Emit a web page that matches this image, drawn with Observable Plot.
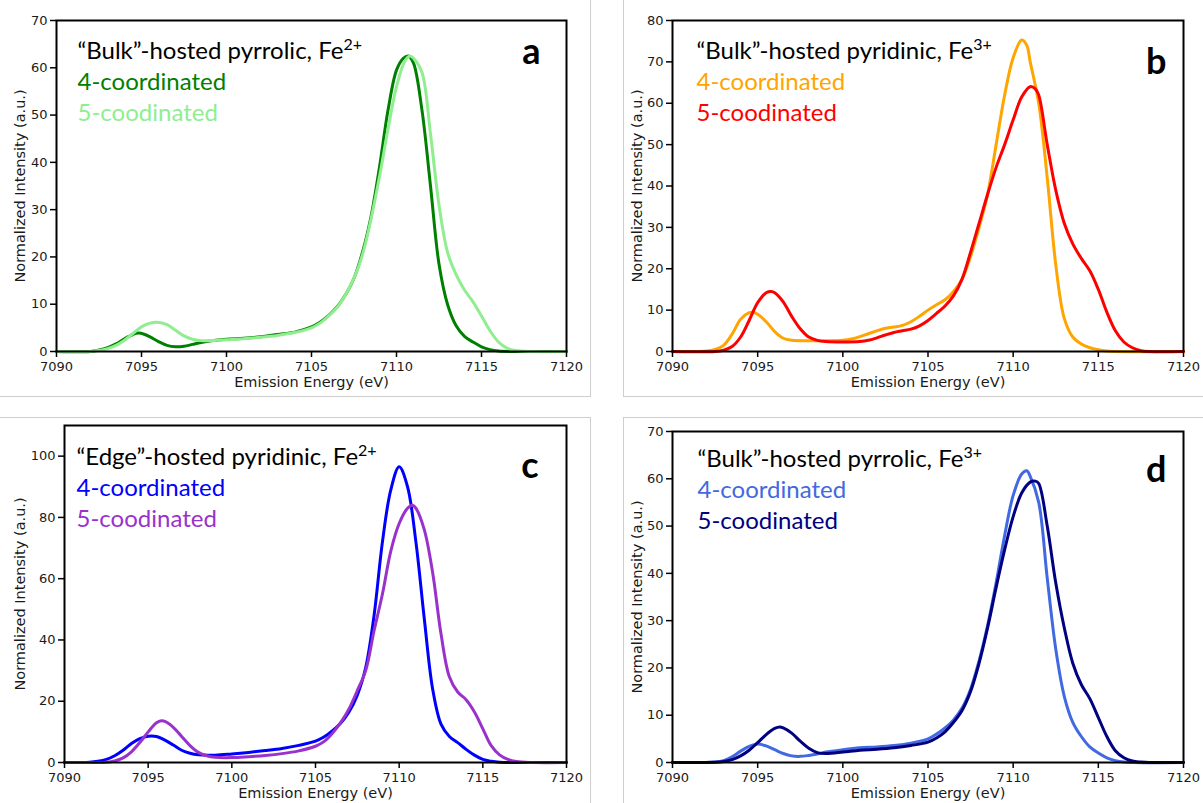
<!DOCTYPE html>
<html><head><meta charset="utf-8">
<script src="https://cdn.jsdelivr.net/npm/d3@7"></script>
<script src="https://cdn.jsdelivr.net/npm/@observablehq/plot@0.6"></script>
<style>
body{margin:0;background:#fff;}
#wrap{position:relative;width:1203px;height:803px;overflow:hidden;background:#fff;}
.rule{position:absolute;background:#cfcfcf;}
</style></head><body><div id="wrap"></div>
<script>
// ---------- shared labels ----------
const xTicks = [7090, 7095, 7100, 7105, 7110, 7115, 7120];
const xLabel = "Emission Energy (eV)";
const yLabel = "Normalized Intensity (a.u.)";
const label4 = "4-coordinated";
const label5 = "5-coodinated";
const panelLetters = ["a", "b", "c", "d"];
const panelTitles = ["“Bulk”-hosted pyrrolic, Fe", "“Bulk”-hosted pyridinic, Fe", "“Edge”-hosted pyridinic, Fe", "“Bulk”-hosted pyrrolic, Fe"];
const panelCharges = ["2+", "3+", "2+", "3+"];
const yTicksA = [0, 10, 20, 30, 40, 50, 60, 70];
const yTicksB = [0, 10, 20, 30, 40, 50, 60, 70, 80];
const yTicksC = [0, 20, 40, 60, 80, 100];
const yTicksD = [0, 10, 20, 30, 40, 50, 60, 70];
const yMaxes = [70, 80, 110, 70];

// ---------- series: [energy (eV), intensity] ----------
const a4 = [[7090,0],[7092,0],[7092.5,0.3],[7093,0.8],[7093.5,1.6],[7094,2.7],[7094.5,3.6],[7094.8,3.9],[7095.2,3.6],[7095.5,3.1],[7096,2.1],[7096.5,1.3],[7097,1.0],[7097.5,1.1],[7098,1.5],[7098.5,1.9],[7099,2.2],[7100,2.6],[7101,2.8],[7102,3.1],[7103,3.6],[7104,4.1],[7105,5.2],[7105.5,6.2],[7106,7.6],[7106.5,9.4],[7107,12],[7107.5,15.5],[7108,21],[7108.5,28.5],[7109,39],[7109.5,51],[7110,59.5],[7110.4,62],[7110.7,62.5],[7111,61],[7111.5,51],[7112,35],[7112.5,18.5],[7113,10],[7113.5,5.5],[7114,3.2],[7114.5,2],[7115,1],[7115.5,0.4],[7116,0.1],[7117,0],[7120,0]];
const a5 = [[7090,0],[7092,0],[7092.5,0.2],[7093,0.6],[7093.5,1.3],[7094,2.4],[7094.5,3.8],[7095,5.2],[7095.5,6.0],[7095.9,6.2],[7096.5,5.7],[7097,4.5],[7097.5,3.3],[7098,2.6],[7098.5,2.3],[7099,2.3],[7100,2.5],[7101,2.7],[7102,3.0],[7103,3.4],[7104,4.0],[7105,5.0],[7105.5,6.0],[7106,7.5],[7106.5,9.3],[7107,12],[7107.5,15.5],[7108,20.5],[7108.5,28],[7109,37],[7109.5,47],[7110,56],[7110.5,61.5],[7110.8,62.5],[7111,62],[7111.5,59],[7112,46],[7112.5,31],[7113,21],[7113.5,16.3],[7114,13],[7114.5,10.5],[7115,7.5],[7115.5,4.4],[7116,2],[7116.5,0.7],[7117,0.2],[7118,0],[7120,0]];
const b4 = [[7090,0],[7092,0.1],[7092.5,0.5],[7093,1.5],[7093.5,4.2],[7094,7.8],[7094.5,9.4],[7094.7,9.5],[7095,9.0],[7095.5,7.2],[7096,4.8],[7096.5,3.2],[7097,2.7],[7098,2.6],[7099,2.6],[7100,2.7],[7100.5,3.0],[7101,3.6],[7101.5,4.3],[7102,5.0],[7102.5,5.6],[7103,5.9],[7103.5,6.3],[7104,7.2],[7104.5,8.5],[7105,10],[7105.5,11.3],[7106,12.5],[7106.5,14.5],[7107,17.5],[7107.5,23],[7108,30],[7108.5,38],[7109,50],[7109.5,62],[7110,71],[7110.5,75.3],[7110.8,74],[7111,70],[7111.5,60],[7112,42],[7112.5,21],[7113,8],[7113.5,3.5],[7114,1.8],[7114.5,0.9],[7115,0.4],[7115.5,0.1],[7116,0],[7120,0]];
const b5 = [[7090,0],[7092.5,0],[7093,0.3],[7093.5,1.2],[7094,3.5],[7094.5,7.5],[7095,11.8],[7095.5,14.2],[7095.8,14.5],[7096,14.2],[7096.5,12],[7097,8.5],[7097.5,5.5],[7098,3.5],[7098.5,2.7],[7099,2.4],[7100,2.3],[7101,2.4],[7101.5,2.7],[7102,3.3],[7102.5,4.0],[7103,4.6],[7103.5,5.0],[7104,5.4],[7104.5,6.2],[7105,7.5],[7105.5,9.2],[7106,11],[7106.5,13.5],[7107,17.5],[7107.5,24],[7108,31],[7108.5,38],[7109,44.5],[7109.5,50],[7110,56],[7110.5,61.5],[7111,64],[7111.3,63.5],[7111.5,62],[7112,50],[7112.5,39],[7113,31],[7113.5,26],[7114,22.5],[7114.5,19.5],[7115,15],[7115.5,9.5],[7116,5],[7116.5,2.3],[7117,0.9],[7117.5,0.2],[7118,0],[7120,0]];
const c4 = [[7090,0],[7091.5,0.1],[7092,0.4],[7092.5,1.0],[7093,2.2],[7093.5,4.0],[7094,6.2],[7094.5,7.8],[7095,8.6],[7095.5,8.5],[7096,7.3],[7096.5,5.7],[7097,4.0],[7097.5,3.0],[7098,2.5],[7099,2.4],[7100,2.8],[7101,3.3],[7102,3.9],[7103,4.6],[7104,5.6],[7105,7.0],[7105.5,8.3],[7106,10.3],[7106.5,12.8],[7107,16.5],[7107.5,22],[7108,31],[7108.5,48],[7109,72],[7109.5,89],[7110,96.5],[7110.5,90],[7111,72],[7111.5,47],[7112,24],[7112.5,12.5],[7113,8.5],[7113.5,6.5],[7114,4.3],[7114.5,2.4],[7115,1.0],[7115.5,0.4],[7116,0.1],[7117,0],[7120,0]];
const c5 = [[7090,0],[7092.5,0.1],[7093,0.5],[7093.5,1.5],[7094,3.5],[7094.5,6.5],[7095,10],[7095.5,13],[7095.8,13.6],[7096,13.4],[7096.5,11.5],[7097,8.5],[7097.5,5.5],[7098,3.3],[7098.5,2.2],[7099,1.7],[7100,1.6],[7101,1.9],[7102,2.3],[7103,2.9],[7104,3.8],[7105,5.3],[7105.5,6.8],[7106,9.5],[7106.5,13],[7107,17.5],[7107.5,23.5],[7108,30],[7108.5,43],[7109,55],[7109.5,69],[7110,78],[7110.5,83],[7110.8,84],[7111,83],[7111.5,76],[7112,62],[7112.5,42],[7113,28],[7113.5,23],[7114,20.5],[7114.5,16.5],[7115,11],[7115.5,5.5],[7116,2.5],[7116.5,1.0],[7117,0.3],[7118,0],[7120,0]];
const d4 = [[7090,0],[7092.5,0.1],[7093,0.4],[7093.5,1.2],[7094,2.4],[7094.5,3.4],[7095,3.9],[7095.5,3.5],[7096,2.7],[7096.5,1.9],[7097,1.4],[7097.5,1.3],[7098,1.5],[7098.5,1.8],[7099,2.2],[7100,2.7],[7101,3.1],[7102,3.3],[7103,3.6],[7104,4.1],[7105,5.0],[7105.5,6.0],[7106,7.3],[7106.5,9.0],[7107,11.5],[7107.5,15.5],[7108,21.5],[7108.5,29],[7109,38],[7109.5,48],[7110,56.5],[7110.5,61],[7110.8,61.7],[7111,60.5],[7111.5,55],[7112,39],[7112.5,24],[7113,14],[7113.5,8.5],[7114,5.5],[7114.5,3.3],[7115,2],[7115.5,1],[7116,0.4],[7116.5,0.1],[7117,0],[7120,0]];
const d5 = [[7090,0],[7092.5,0.05],[7093,0.2],[7093.5,0.6],[7094,1.4],[7094.5,2.6],[7095,4.2],[7095.5,5.9],[7096,7.2],[7096.3,7.5],[7096.5,7.3],[7097,6.2],[7097.5,4.5],[7098,3.0],[7098.5,2.1],[7099,1.9],[7100,2.2],[7101,2.6],[7102,2.8],[7103,3.1],[7104,3.6],[7105,4.3],[7105.5,5.2],[7106,6.5],[7106.5,8.5],[7107,11],[7107.5,15],[7108,21],[7108.5,28.5],[7109,37],[7109.5,45],[7110,52],[7110.5,57],[7111,59.3],[7111.3,59.5],[7111.5,59],[7112,50],[7112.5,38],[7113,28.5],[7113.5,21],[7114,16.5],[7114.5,13.5],[7115,9.5],[7115.5,5.5],[7116,2.5],[7116.5,1.0],[7117,0.3],[7117.5,0.1],[7118,0],[7120,0]];

// ---------- layout & style (not data) ----------
const layout = [
  {s4:a4, s5:a5, col4:"green", col5:"lightgreen", yTicks:yTicksA, left:0, top:0, w:600, h:400, mL:56, mR:34, mT:20, mB:49, yOff:42, tdx:21, tdy:21, ldx:-26, ldy:18},
  {s4:b4, s5:b5, col4:"orange", col5:"red", yTicks:yTicksB, left:600, top:0, w:603, h:400, mL:72, mR:20, mT:20, mB:49, yOff:41, tdx:24, tdy:21, ldx:-17, ldy:28},
  {s4:c4, s5:c5, col4:"blue", col5:"darkorchid", yTicks:yTicksC, left:0, top:400, w:600, h:403, mL:64, mR:34, mT:25, mB:41, yOff:50, tdx:12, tdy:22, ldx:-28, ldy:27},
  {s4:d4, s5:d5, col4:"royalblue", col5:"navy", yTicks:yTicksD, left:600, top:400, w:603, h:403, mL:72, mR:20, mT:31, mB:41, yOff:41, tdx:25, tdy:18, ldx:-17, ldy:25}
];
const annFont = "Lato, 'Open Sans', sans-serif";
const annSize = 24;
const lineGap = 31;
const axisFont = "'DejaVu Sans', sans-serif";

const wrap = document.getElementById("wrap");

layout.forEach((p, i) => {
  const title = panelTitles[i];
  const svg = Plot.plot({
    width: p.w, height: p.h,
    marginLeft: p.mL, marginRight: p.mR, marginTop: p.mT, marginBottom: p.mB,
    style: {fontFamily: axisFont, color: "#1a1a1a", background: "transparent", overflow: "visible"},
    x: {domain: [7090, 7120]},
    y: {domain: [0, yMaxes[i]]},
    marks: [
      Plot.line(p.s4, {x: d => d[0], y: d => d[1], stroke: p.col4, strokeWidth: 3, curve: "catmull-rom"}),
      Plot.line(p.s5, {x: d => d[0], y: d => d[1], stroke: p.col5, strokeWidth: 3, curve: "catmull-rom"}),
      Plot.frame({stroke: "black", strokeWidth: 2}),
      Plot.axisX({ticks: xTicks, tickFormat: d3.format("d"), tickSize: 6, tickPadding: 4, stroke: "black", strokeWidth: 1.5,
        fontSize: 13, fontFamily: axisFont, label: null}),
      Plot.axisY({ticks: p.yTicks, tickFormat: d3.format("d"), tickSize: 6, tickPadding: 3, stroke: "black", strokeWidth: 1.5,
        fontSize: 13, fontFamily: axisFont, label: null}),
      Plot.text([xLabel], {text: d => d, frameAnchor: "bottom", textAnchor: "middle", lineAnchor: "bottom", dy: 35,
        fontFamily: axisFont, fontSize: 14.5, fill: "#1a1a1a"}),
      Plot.text([yLabel], {text: d => d, frameAnchor: "left", textAnchor: "middle", lineAnchor: "top", rotate: -90, dx: -p.yOff,
        fontFamily: axisFont, fontSize: 14.5, fill: "#1a1a1a"}),
      Plot.text([title], {text: d => d, frameAnchor: "top-left", textAnchor: "start", lineAnchor: "top",
        dx: p.tdx, dy: p.tdy, fontFamily: annFont, fontSize: annSize, fill: "black"}),
      Plot.text([label4], {text: d => d, frameAnchor: "top-left", textAnchor: "start", lineAnchor: "top",
        dx: p.tdx, dy: p.tdy + lineGap, fontFamily: annFont, fontSize: annSize, fill: p.col4}),
      Plot.text([label5], {text: d => d, frameAnchor: "top-left", textAnchor: "start", lineAnchor: "top",
        dx: p.tdx, dy: p.tdy + 2 * lineGap, fontFamily: annFont, fontSize: annSize, fill: p.col5}),
      Plot.text([panelLetters[i]], {text: d => d, frameAnchor: "top-right", textAnchor: "end", lineAnchor: "top",
        dx: p.ldx, dy: p.ldy, fontFamily: annFont, fontSize: 36, fontWeight: "bold", fill: "black"})
    ]
  });
  svg.querySelectorAll("text").forEach(t => {
    if (t.textContent === title) {
      const ts = document.createElementNS("http://www.w3.org/2000/svg", "tspan");
      ts.setAttribute("dy", "-9");
      ts.setAttribute("font-size", "16");
      ts.textContent = panelCharges[i];
      t.appendChild(ts);
    }
  });
  svg.style.position = "absolute";
  svg.style.left = p.left + "px";
  svg.style.top = p.top + "px";
  wrap.appendChild(svg);
});

// light grey panel borders
[
  {l: 590, t: 0, w: 1, h: 397}, {l: 0, t: 396, w: 591, h: 1},
  {l: 623, t: 0, w: 1, h: 397}, {l: 623, t: 396, w: 580, h: 1},
  {l: 0, t: 417, w: 591, h: 1}, {l: 590, t: 417, w: 1, h: 386},
  {l: 623, t: 417, w: 580, h: 1}, {l: 623, t: 417, w: 1, h: 386}
].forEach(r => {
  const d = document.createElement("div");
  d.className = "rule";
  d.style.left = r.l + "px"; d.style.top = r.t + "px";
  d.style.width = r.w + "px"; d.style.height = r.h + "px";
  wrap.appendChild(d);
});
</script></body></html>
